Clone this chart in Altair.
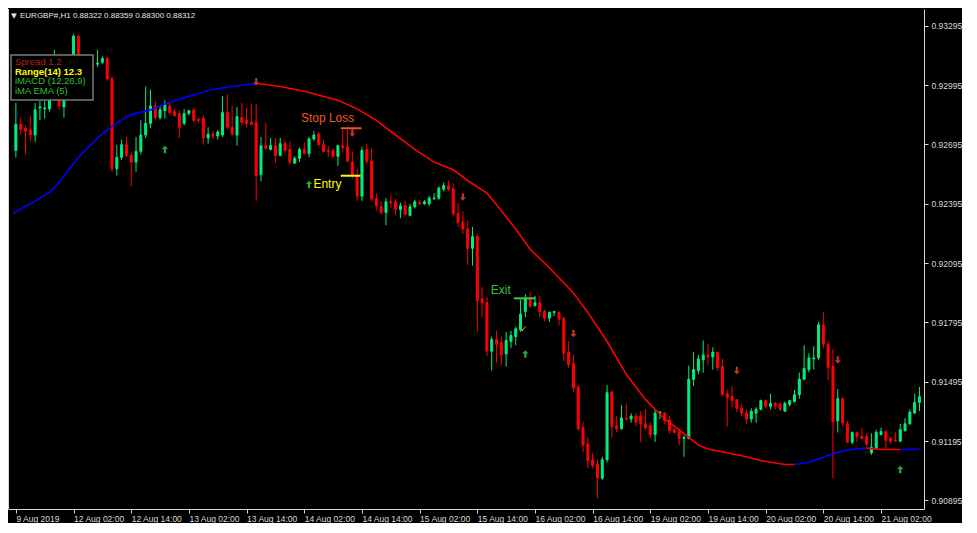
import altair as alt
import pandas as pd

# ---------------- data (EURGBP H1 candles) ----------------
opens = [0.92665, 0.92797, 0.92777, 0.92768, 0.92743, 0.92880, 0.92875, 0.92875, 0.92964, 0.93047,
         0.92885, 0.93027, 0.93106, 0.93243, 0.93111, 0.93076, 0.93106, 0.93101, 0.93111, 0.93130,
         0.93027, 0.92572, 0.92630, 0.92694, 0.92640, 0.92606, 0.92660, 0.92743, 0.92802, 0.92890,
         0.92831, 0.92866, 0.92890, 0.92861, 0.92851, 0.92802, 0.92851, 0.92870, 0.92821, 0.92826,
         0.92728, 0.92748, 0.92738, 0.92743, 0.92856, 0.92782, 0.92743, 0.92831, 0.92817, 0.92807,
         0.92807, 0.92542, 0.92689, 0.92670, 0.92689, 0.92640, 0.92699, 0.92670, 0.92601, 0.92625,
         0.92670, 0.92650, 0.92723, 0.92748, 0.92694, 0.92665, 0.92665, 0.92635, 0.92689, 0.92684,
         0.92606, 0.92537, 0.92434, 0.92670, 0.92611, 0.92420, 0.92380, 0.92351, 0.92405, 0.92405,
         0.92366, 0.92385, 0.92336, 0.92380, 0.92400, 0.92395, 0.92395, 0.92420, 0.92424, 0.92469,
         0.92488, 0.92469, 0.92346, 0.92302, 0.92268, 0.92170, 0.92229, 0.91915, 0.91895, 0.91650,
         0.91709, 0.91694, 0.91636, 0.91699, 0.91724, 0.91758, 0.91851, 0.91910, 0.91881, 0.91895,
         0.91851, 0.91817, 0.91846, 0.91846, 0.91817, 0.91645, 0.91587, 0.91469, 0.91263, 0.91180,
         0.91101, 0.91077, 0.91008, 0.91101, 0.91444, 0.91273, 0.91258, 0.91312, 0.91307, 0.91322,
         0.91322, 0.91283, 0.91273, 0.91229, 0.91337, 0.91337, 0.91302, 0.91253, 0.91244, 0.91209,
         0.91209, 0.91508, 0.91552, 0.91606, 0.91631, 0.91621, 0.91645, 0.91572, 0.91435, 0.91420,
         0.91405, 0.91361, 0.91337, 0.91307, 0.91337, 0.91356, 0.91400, 0.91371, 0.91386, 0.91381,
         0.91347, 0.91381, 0.91395, 0.91430, 0.91508, 0.91557, 0.91611, 0.91616, 0.91783, 0.91685,
         0.91572, 0.91298, 0.91410, 0.91283, 0.91190, 0.91239, 0.91219, 0.91219, 0.91136, 0.91160,
         0.91229, 0.91244, 0.91209, 0.91200, 0.91195, 0.91248, 0.91283, 0.91337, 0.91391]
highs = [0.92905, 0.92831, 0.92792, 0.92841, 0.92905, 0.92915, 0.92915, 0.92988, 0.93174, 0.93155,
         0.93076, 0.93135, 0.93253, 0.93248, 0.93135, 0.93125, 0.93145, 0.93174, 0.93140, 0.93140,
         0.93037, 0.92694, 0.92719, 0.92733, 0.92655, 0.92733, 0.92817, 0.92988, 0.92973, 0.92915,
         0.92890, 0.92919, 0.92910, 0.92875, 0.92870, 0.92875, 0.92870, 0.92880, 0.92831, 0.92841,
         0.92782, 0.92763, 0.92768, 0.92939, 0.92949, 0.92890, 0.92885, 0.92905, 0.92880, 0.92900,
         0.92900, 0.92733, 0.92802, 0.92728, 0.92728, 0.92728, 0.92714, 0.92709, 0.92635, 0.92679,
         0.92704, 0.92733, 0.92763, 0.92758, 0.92719, 0.92689, 0.92674, 0.92694, 0.92768, 0.92768,
         0.92660, 0.92572, 0.92684, 0.92699, 0.92674, 0.92449, 0.92410, 0.92424, 0.92439, 0.92420,
         0.92400, 0.92410, 0.92395, 0.92415, 0.92415, 0.92415, 0.92434, 0.92449, 0.92483, 0.92503,
         0.92513, 0.92498, 0.92400, 0.92356, 0.92312, 0.92278, 0.92243, 0.91974, 0.91925, 0.91724,
         0.91753, 0.91724, 0.91748, 0.91753, 0.91773, 0.91910, 0.91939, 0.91949, 0.91930, 0.91930,
         0.91861, 0.91851, 0.91851, 0.91851, 0.91822, 0.91699, 0.91631, 0.91479, 0.91293, 0.91214,
         0.91136, 0.91101, 0.91116, 0.91479, 0.91449, 0.91322, 0.91376, 0.91386, 0.91337, 0.91337,
         0.91347, 0.91356, 0.91288, 0.91356, 0.91347, 0.91342, 0.91322, 0.91263, 0.91258, 0.91224,
         0.91577, 0.91645, 0.91631, 0.91704, 0.91685, 0.91670, 0.91645, 0.91611, 0.91454, 0.91474,
         0.91405, 0.91381, 0.91356, 0.91361, 0.91366, 0.91405, 0.91405, 0.91435, 0.91395, 0.91391,
         0.91395, 0.91400, 0.91454, 0.91542, 0.91680, 0.91640, 0.91675, 0.91797, 0.91846, 0.91699,
         0.91660, 0.91459, 0.91415, 0.91298, 0.91244, 0.91244, 0.91263, 0.91234, 0.91234, 0.91253,
         0.91263, 0.91248, 0.91214, 0.91239, 0.91283, 0.91312, 0.91356, 0.91435, 0.91469]
lows = [0.92630, 0.92743, 0.92645, 0.92709, 0.92709, 0.92817, 0.92826, 0.92861, 0.92949, 0.92870,
        0.92831, 0.93008, 0.93086, 0.93076, 0.93037, 0.93057, 0.93071, 0.93086, 0.93101, 0.93017,
        0.92557, 0.92537, 0.92616, 0.92630, 0.92483, 0.92557, 0.92645, 0.92728, 0.92777, 0.92821,
        0.92821, 0.92826, 0.92846, 0.92836, 0.92728, 0.92792, 0.92841, 0.92807, 0.92802, 0.92694,
        0.92699, 0.92723, 0.92719, 0.92733, 0.92772, 0.92738, 0.92689, 0.92792, 0.92782, 0.92792,
        0.92410, 0.92508, 0.92670, 0.92665, 0.92601, 0.92635, 0.92660, 0.92596, 0.92596, 0.92606,
        0.92645, 0.92630, 0.92714, 0.92689, 0.92655, 0.92630, 0.92630, 0.92586, 0.92655, 0.92606,
        0.92523, 0.92410, 0.92410, 0.92596, 0.92410, 0.92361, 0.92341, 0.92287, 0.92375, 0.92336,
        0.92322, 0.92336, 0.92331, 0.92371, 0.92390, 0.92390, 0.92385, 0.92415, 0.92415, 0.92459,
        0.92459, 0.92331, 0.92278, 0.92243, 0.92086, 0.92082, 0.91748, 0.91822, 0.91626, 0.91552,
        0.91592, 0.91577, 0.91572, 0.91665, 0.91680, 0.91748, 0.91822, 0.91871, 0.91876, 0.91822,
        0.91802, 0.91797, 0.91827, 0.91778, 0.91601, 0.91567, 0.91444, 0.91248, 0.91141, 0.91057,
        0.91057, 0.90905, 0.90999, 0.91087, 0.91214, 0.91239, 0.91253, 0.91298, 0.91288, 0.91273,
        0.91190, 0.91253, 0.91209, 0.91190, 0.91307, 0.91283, 0.91234, 0.91234, 0.91175, 0.91116,
        0.91204, 0.91474, 0.91533, 0.91542, 0.91582, 0.91557, 0.91552, 0.91425, 0.91268, 0.91366,
        0.91342, 0.91322, 0.91283, 0.91288, 0.91288, 0.91351, 0.91361, 0.91356, 0.91356, 0.91347,
        0.91342, 0.91371, 0.91391, 0.91410, 0.91503, 0.91542, 0.91557, 0.91606, 0.91665, 0.91503,
        0.91008, 0.91239, 0.91273, 0.91185, 0.91180, 0.91190, 0.91204, 0.91170, 0.91126, 0.91155,
        0.91224, 0.91160, 0.91180, 0.91195, 0.91190, 0.91244, 0.91278, 0.91332, 0.91347]
closes = [0.92797, 0.92772, 0.92763, 0.92743, 0.92870, 0.92885, 0.92880, 0.92964, 0.93047, 0.92890,
          0.93027, 0.93106, 0.93243, 0.93111, 0.93076, 0.93106, 0.93096, 0.93106, 0.93130, 0.93027,
          0.92572, 0.92630, 0.92694, 0.92640, 0.92606, 0.92660, 0.92743, 0.92802, 0.92890, 0.92831,
          0.92870, 0.92900, 0.92856, 0.92841, 0.92782, 0.92851, 0.92866, 0.92817, 0.92817, 0.92728,
          0.92748, 0.92738, 0.92758, 0.92856, 0.92782, 0.92748, 0.92836, 0.92807, 0.92802, 0.92797,
          0.92537, 0.92689, 0.92674, 0.92689, 0.92640, 0.92699, 0.92665, 0.92606, 0.92625, 0.92670,
          0.92650, 0.92723, 0.92743, 0.92694, 0.92660, 0.92660, 0.92635, 0.92689, 0.92679, 0.92611,
          0.92537, 0.92434, 0.92665, 0.92611, 0.92420, 0.92385, 0.92351, 0.92405, 0.92400, 0.92366,
          0.92385, 0.92341, 0.92380, 0.92405, 0.92395, 0.92405, 0.92424, 0.92424, 0.92474, 0.92488,
          0.92469, 0.92346, 0.92302, 0.92268, 0.92170, 0.92229, 0.91905, 0.91895, 0.91650, 0.91709,
          0.91685, 0.91631, 0.91704, 0.91729, 0.91763, 0.91837, 0.91915, 0.91876, 0.91895, 0.91851,
          0.91817, 0.91846, 0.91851, 0.91812, 0.91640, 0.91582, 0.91464, 0.91258, 0.91175, 0.91097,
          0.91072, 0.91008, 0.91101, 0.91440, 0.91268, 0.91258, 0.91312, 0.91307, 0.91322, 0.91293,
          0.91283, 0.91263, 0.91229, 0.91337, 0.91342, 0.91298, 0.91248, 0.91239, 0.91209, 0.91214,
          0.91508, 0.91557, 0.91611, 0.91631, 0.91621, 0.91645, 0.91567, 0.91430, 0.91415, 0.91400,
          0.91361, 0.91337, 0.91307, 0.91347, 0.91356, 0.91400, 0.91371, 0.91386, 0.91376, 0.91356,
          0.91386, 0.91400, 0.91430, 0.91508, 0.91562, 0.91616, 0.91616, 0.91783, 0.91685, 0.91567,
          0.91293, 0.91410, 0.91288, 0.91190, 0.91239, 0.91219, 0.91209, 0.91180, 0.91165, 0.91239,
          0.91244, 0.91199, 0.91195, 0.91195, 0.91253, 0.91283, 0.91342, 0.91391, 0.91420]

time_tick_idx = [0, 12, 24, 36, 48, 60, 72, 84, 96, 108, 120, 132, 144, 156, 168, 180]
time_tick_labels = ["9 Aug 2019", "12 Aug 02:00", "12 Aug 14:00", "13 Aug 02:00", "13 Aug 14:00",
                    "14 Aug 02:00", "14 Aug 14:00", "15 Aug 02:00", "15 Aug 14:00", "16 Aug 02:00",
                    "16 Aug 14:00", "19 Aug 02:00", "19 Aug 14:00", "20 Aug 02:00", "20 Aug 14:00",
                    "21 Aug 02:00"]
price_ticks = [0.93295, 0.93145, 0.92995, 0.92845, 0.92695, 0.92545, 0.92395, 0.92245, 0.92095,
               0.91945, 0.91795, 0.91645, 0.91495, 0.91345, 0.91195, 0.91045, 0.90895]

# smoothed trend line, split in rising (blue) and falling (red) parts
ema_rise1_idx = [-0.6, 3, 7, 9, 11, 13, 15, 17, 19, 22, 24, 28, 31, 34, 38, 41, 45, 48, 50]
ema_rise1_val = [0.92346, 0.92395, 0.92454, 0.92503, 0.92567, 0.92630, 0.92679, 0.92728, 0.92768,
                 0.92821, 0.92846, 0.92870, 0.92900, 0.92924, 0.92954, 0.92973, 0.92988, 0.92998, 0.93003]
ema_fall1_idx = [50, 52, 55, 60, 67, 71, 75, 79, 83, 87, 91, 94, 98, 100, 104, 107, 111, 116, 119,
                 123, 127, 131, 135, 140, 142, 144, 148, 151, 155, 160, 162]
ema_fall1_val = [0.93003, 0.92998, 0.92988, 0.92964, 0.92919, 0.92875, 0.92817, 0.92743, 0.92670,
                 0.92606, 0.92567, 0.92513, 0.92449, 0.92390, 0.92268, 0.92165, 0.92072, 0.91944,
                 0.91846, 0.91699, 0.91533, 0.91405, 0.91307, 0.91214, 0.91175, 0.91155, 0.91136,
                 0.91121, 0.91097, 0.91077, 0.91077]
ema_rise2_idx = [162, 165, 167, 170, 173, 175, 177]
ema_rise2_val = [0.91077, 0.91087, 0.91106, 0.91131, 0.91151, 0.91155, 0.91160]
ema_fall2_idx = [177, 180, 184]
ema_fall2_val = [0.91160, 0.91153, 0.91153]
ema_rise3_idx = [184, 188]
ema_rise3_val = [0.91153, 0.91155]

# signal arrows
sig_up_idx = [31, 61, 106, 184]
sig_up_price = [0.92670, 0.92493, 0.91636, 0.91052]
sig_dn_idx = [50, 70, 93, 116, 150, 171]
sig_dn_price = [0.93012, 0.92753, 0.92429, 0.91739, 0.91552, 0.91606]

# trade levels
level_names = ["Stop Loss", "Entry", "Exit"]
level_price = [0.92777, 0.92537, 0.91917]
level_from = [67.6, 67.6, 103.6]
level_to = [71.9, 71.7, 108.1]
label_idx = [59.3, 61.9, 98.8]
label_price = [0.92831, 0.92493, 0.91959]
check_idx = [105.6]
check_price = [0.91760]

# ---------------- styles ----------------
FONT = "Liberation Sans"
AXIS_COL = "#d9d9d9"
BULL = "#00ee7e"
BEAR = "#ff0000"
level_colors = {"Stop Loss": ("#ff5020", "#ee5a2a"), "Entry": ("#ffff00", "#ffff00"), "Exit": ("#44cc44", "#3cbf3c")}

W, H = 916, 500

n = len(opens)
df = pd.DataFrame({"i": list(range(n)), "open": opens, "high": highs, "low": lows, "close": closes})
df["kind"] = ["bull" if c >= o else "bear" for o, c in zip(opens, closes)]

rows = []
for seg, trend, xs, ys in [("r1", "rise", ema_rise1_idx, ema_rise1_val),
                           ("f1", "fall", ema_fall1_idx, ema_fall1_val),
                           ("r2", "rise", ema_rise2_idx, ema_rise2_val),
                           ("f2", "fall", ema_fall2_idx, ema_fall2_val),
                           ("r3", "rise", ema_rise3_idx, ema_rise3_val)]:
    for a, b in zip(xs, ys):
        rows.append({"i": a, "price": b, "seg": seg, "trend": trend})
ema_df = pd.DataFrame(rows)

color_scale = alt.Scale(domain=["bull", "bear", "rise", "fall"], range=[BULL, BEAR, "#0000ff", "#ff0000"])
x_scale = alt.Scale(domain=[-0.6, 187.9], nice=False, zero=False)
y_scale = alt.Scale(domain=[0.90852, 0.93380], nice=False, zero=False)

label_expr = "[" + ",".join("'" + t + "'" for t in time_tick_labels) + "][round(datum.value/12)]"

x_axis = alt.Axis(values=time_tick_idx, labelExpr=label_expr, title=None, grid=False,
                  labelAlign="left", labelBaseline="top", labelColor=AXIS_COL, labelFont=FONT,
                  labelFontSize=8.5, tickColor=AXIS_COL, tickSize=4, domainColor=AXIS_COL,
                  labelPadding=1, labelOverlap=False, labelFlush=False, labelBound=False)
y_axis = alt.Axis(orient="right", values=price_ticks, format=".5f", title=None, grid=False,
                  labelColor=AXIS_COL, labelFont=FONT, labelFontSize=8.5, tickColor=AXIS_COL,
                  tickSize=4, domainColor=AXIS_COL, labelPadding=3, labelOverlap=False,
                  labelFlush=False, labelBound=False)

base = alt.Chart(df)
wicks = base.mark_rule(strokeWidth=1, clip=True).encode(
    x=alt.X("i:Q", scale=x_scale, axis=x_axis),
    y=alt.Y("low:Q", scale=y_scale, axis=y_axis),
    y2="high:Q",
    color=alt.Color("kind:N", scale=color_scale, legend=None),
)
bodies = base.mark_bar(size=2, strokeWidth=1, clip=True).encode(
    x="i:Q", y="open:Q", y2="close:Q",
    color=alt.Color("kind:N", scale=color_scale, legend=None),
    stroke=alt.Stroke("kind:N", scale=alt.Scale(domain=["bull", "bear"], range=[BULL, BEAR]), legend=None),
)

ema = alt.Chart(ema_df).mark_line(strokeWidth=1.6, clip=True).encode(
    x="i:Q", y="price:Q", detail="seg:N",
    color=alt.Color("trend:N", scale=color_scale, legend=None),
)

arrow_dn = "M-0.3,-1L0.3,-1L0.3,0.1L0.85,0.1L0,1L-0.85,0.1L-0.3,0.1Z"
arrow_up = "M-0.3,1L0.3,1L0.3,-0.1L0.85,-0.1L0,-1L-0.85,-0.1L-0.3,-0.1Z"
up_sig = alt.Chart(pd.DataFrame({"i": sig_up_idx, "price": sig_up_price})).mark_point(
    shape=arrow_up, filled=True, size=55, color="#2fa83a", opacity=1, clip=True
).encode(x="i:Q", y="price:Q")
dn_sig = alt.Chart(pd.DataFrame({"i": sig_dn_idx, "price": sig_dn_price})).mark_point(
    shape=arrow_dn, filled=True, size=55, color="#c0342a", opacity=1, clip=True
).encode(x="i:Q", y="price:Q")

lvl_df = pd.DataFrame({"name": level_names, "price": level_price, "start": level_from,
                       "end": level_to, "li": label_idx, "lp": label_price})
level_layers = []
for nm in level_names:
    line_col, text_col = level_colors[nm]
    sub = alt.Chart(lvl_df).transform_filter(alt.datum.name == nm)
    level_layers.append(sub.mark_rule(strokeWidth=2, color=line_col).encode(
        x="start:Q", x2="end:Q", y="price:Q"))
    level_layers.append(sub.mark_text(align="left", baseline="middle", font=FONT, fontSize=12,
                                      color=text_col).encode(x="li:Q", y="lp:Q", text="name:N"))

check = alt.Chart(pd.DataFrame({"i": check_idx, "price": check_price})).mark_text(
    text="✓", color="#e6b800", fontSize=9, font="DejaVu Sans").encode(x="i:Q", y="price:Q")

one = pd.DataFrame({"a": [1]})
left_border = alt.Chart(one).mark_rule(color=AXIS_COL, strokeWidth=1).encode(
    x=alt.value(0.5), y=alt.value(0), y2=alt.value(H))

title_tri = alt.Chart(one).mark_text(text="▼", color="#e8e8e8", fontSize=7, font="DejaVu Sans",
                                     align="center", baseline="middle").encode(x=alt.value(6), y=alt.value(7))
title_txt = alt.Chart(one).mark_text(text="EURGBP#,H1  0.88322 0.88359 0.88300 0.88312", color="#e8e8e8",
                                     fontSize=8, font=FONT, align="left", baseline="middle").encode(
    x=alt.value(12), y=alt.value(7))

box = alt.Chart(one).mark_rect(fill="#000000", stroke="#7a7a7a", strokeWidth=1.5).encode(
    x=alt.value(3), x2=alt.value(85), y=alt.value(46), y2=alt.value(91))
legend_lines = [("Spread 1.2", "#b02020", "normal", 53), ("Range(14) 12.3", "#ffff00", "bold", 62.5),
                ("iMACD (12,26,9)", "#2ec02e", "normal", 72), ("iMA EMA (5)", "#2ec02e", "normal", 81.5)]
legend_layers = [
    alt.Chart(one).mark_text(text=t, color=c, fontWeight=w, fontSize=9.5, font=FONT, align="left",
                             baseline="middle").encode(x=alt.value(7), y=alt.value(yy))
    for t, c, w, yy in legend_lines
]

chart = alt.layer(
    wicks, bodies, ema, up_sig, dn_sig, *level_layers, check, left_border,
    title_tri, title_txt, box, *legend_layers
).resolve_scale(stroke="independent").properties(
    width=W, height=H, padding=0, background="#000000"
).configure_view(strokeWidth=0)

chart.save("out.html", embed_options={"renderer": "svg", "actions": False})
